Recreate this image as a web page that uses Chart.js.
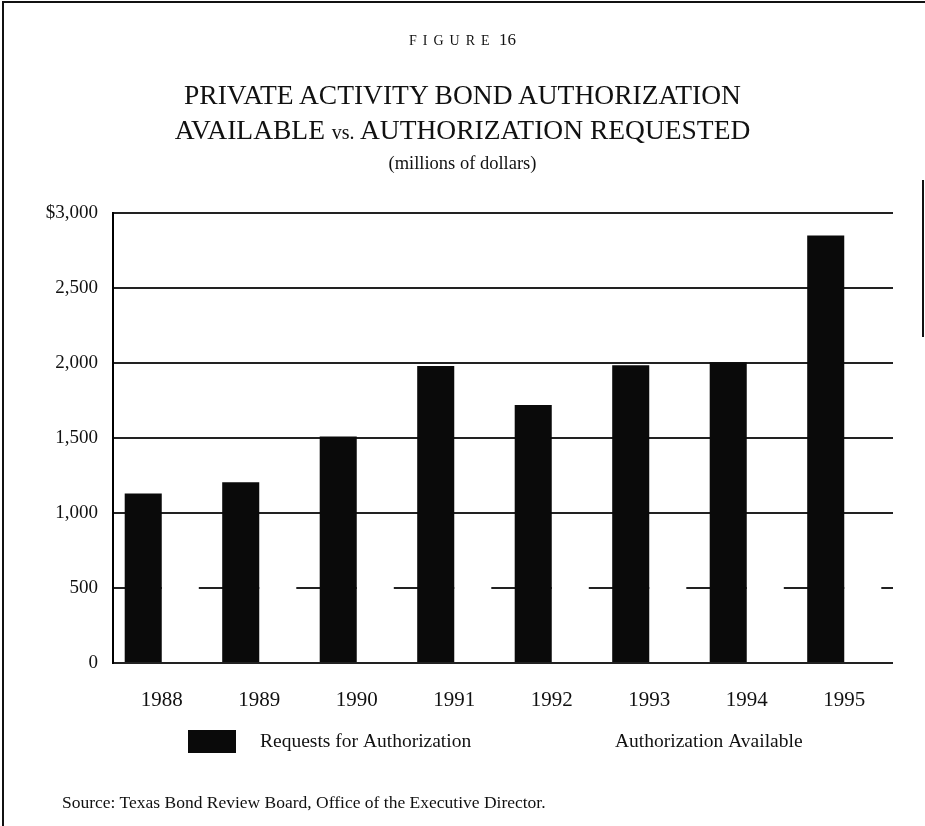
<!DOCTYPE html>
<html>
<head>
<meta charset="utf-8">
<script src="https://cdn.jsdelivr.net/npm/chart.js@4.4.1/dist/chart.umd.min.js"></script>
<style>
  html, body { margin: 0; padding: 0; background: #fff; }
  #page { position: relative; width: 925px; height: 826px; overflow: hidden; font-family: "Liberation Serif", serif; color: #111; }
  #chart { position: absolute; left: 0; top: 0; }
  .txt { position: absolute; left: 0; width: 925px; text-align: center; white-space: nowrap; }
  #frameTop { position: absolute; left: 2px; top: 1px; width: 923px; height: 2px; background: #111; }
  #frameLeft { position: absolute; left: 2px; top: 1px; width: 2px; height: 825px; background: #111; }
  #frameRight { position: absolute; left: 922px; top: 180px; width: 2px; height: 157px; background: #111; }
</style>
</head>
<body>
<div id="page">
  <canvas id="chart" width="925" height="826"></canvas>
  <div id="frameTop"></div>
  <div id="frameLeft"></div>
  <div id="frameRight"></div>
  <div class="txt" style="top:30px; font-size:14px;"><span style="letter-spacing:6px">FIGURE</span>&nbsp;<span style="font-size:17px">16</span></div>
  <div class="txt" style="top:77px; font-size:27.5px; line-height:35px;">PRIVATE ACTIVITY BOND AUTHORIZATION<br>AVAILABLE <span style="font-size:20px">vs.</span> AUTHORIZATION REQUESTED</div>
  <div class="txt" style="top:153px; font-size:18.5px;">(millions of dollars)</div>
  <div class="txt" style="top:792px; left:62px; width:auto; text-align:left; font-size:17.5px;">Source: Texas Bond Review Board, Office of the Executive Director.</div>
</div>
<script>
const years = ['1988', '1989', '1990', '1991', '1992', '1993', '1994', '1995'];
const requested = [1130, 1205, 1510, 1980, 1720, 1985, 2005, 2850];
const available = [840, 845, 850, 865, 885, 900, 920, 935];
const yTickLabels = ['0', '500', '1,000', '1,500', '2,000', '2,500', '$3,000'];

// legend drawn under the axis, box + label like the printed figure
const legendSpots = [{ box: 188, text: 260 }, { box: 542, text: 615 }];
const bottomLegend = {
  id: 'bottomLegend',
  afterDraw(chart) {
    const ctx = chart.ctx;
    ctx.save();
    chart.data.datasets.forEach((ds, i) => {
      const spot = legendSpots[i];
      ctx.fillStyle = ds.backgroundColor;
      ctx.fillRect(spot.box, 730, 48, 23);
      ctx.fillStyle = '#111';
      ctx.font = '19.5px "Liberation Serif"';
      ctx.textBaseline = 'middle';
      ctx.fillText(ds.label, spot.text, 742);
    });
    ctx.restore();
  }
};

new Chart(document.getElementById('chart'), {
  type: 'bar',
  data: {
    labels: years,
    datasets: [{
      label: 'Requests for Authorization',
      data: requested,
      backgroundColor: '#0a0a0a',
      borderWidth: 0
    }, {
      label: 'Authorization Available',
      data: available,
      backgroundColor: '#ffffff',
      borderWidth: 0
    }]
  },
  options: {
    responsive: false,
    animation: false,
    layout: { padding: { left: 0, right: 32, top: 213, bottom: 103 } },
    datasets: { bar: { barPercentage: 1.0, categoryPercentage: 0.76 } },
    plugins: {
      legend: { display: false },
      tooltip: { enabled: false }
    },
    scales: {
      x: {
        grid: { display: false },
        border: { display: false },
        ticks: { color: '#111', padding: 17, font: { family: 'Liberation Serif', size: 21 } },
        afterFit: (axis) => { axis.height = 60; }
      },
      y: {
        min: 0,
        max: 3000,
        grid: { color: '#222', lineWidth: 2, drawTicks: false },
        border: { display: true, color: '#000', width: 2 },
        ticks: {
          stepSize: 500,
          padding: 15,
          color: '#111',
          font: { family: 'Liberation Serif', size: 19 },
          callback: (v, i) => yTickLabels[i]
        },
        afterFit: (axis) => { axis.width = 113; }
      }
    }
  },
  plugins: [bottomLegend]
});
</script>
</body>
</html>
